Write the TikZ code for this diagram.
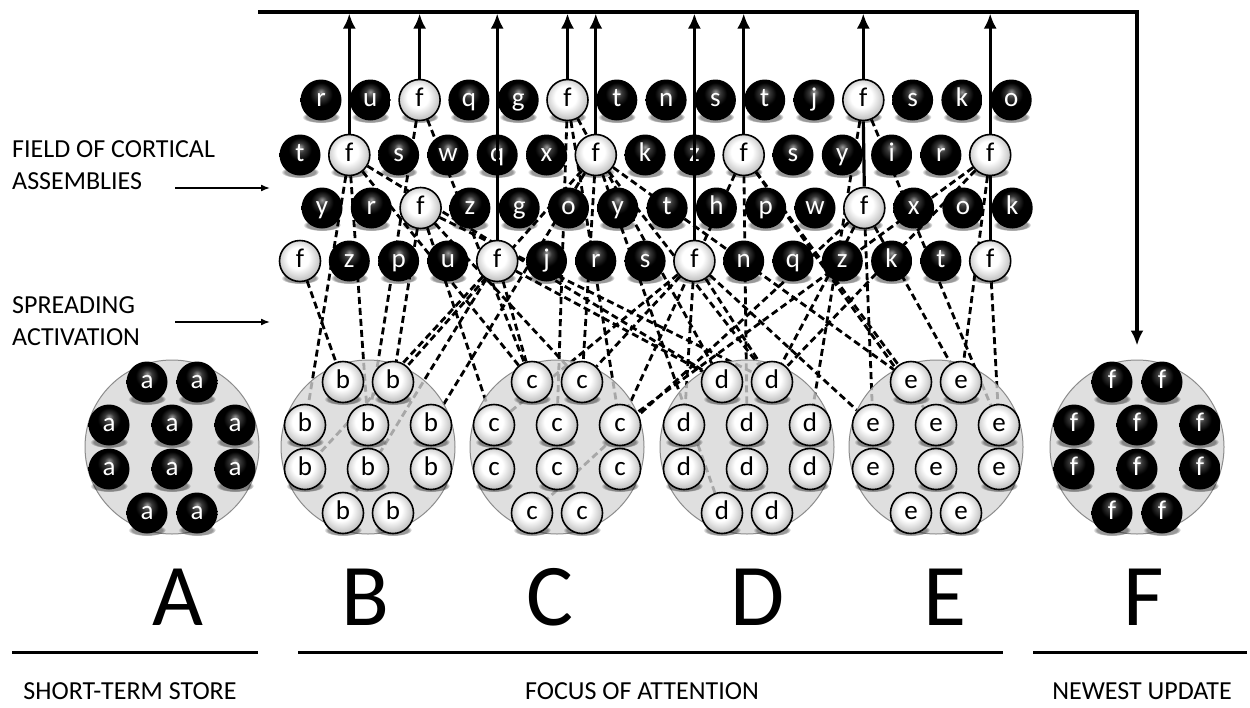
\documentclass[tikz,border=0pt]{standalone}
\usepackage{fontspec}
\setmainfont{Carlito}
\usetikzlibrary{arrows.meta,backgrounds,fadings}
\pgfdeclarelayer{paper}
\pgfsetlayers{paper,background,main}
\pgfdeclareradialshading{darkball}{\pgfpoint{0bp}{10bp}}{%
  color(0bp)=(black!40); color(6bp)=(black!78); color(14bp)=(black); color(50bp)=(black)}
\pgfdeclareradialshading{lightball}{\pgfpoint{-3bp}{5bp}}{%
  color(0bp)=(white); color(13bp)=(white); color(25bp)=(black!22); color(50bp)=(black!30)}
\newcommand\ballfont{\fontsize{27}{27}\selectfont}
\newcommand\labfont{\fontsize{26}{32}\selectfont}
\newcommand\bigfont{\fontsize{88}{88}\selectfont}
\def\fchar{f}

\begin{document}
\begin{tikzpicture}[x=1pt,y=-1pt,
  bball/.style={circle,minimum size=41pt,inner sep=0pt,shade,shading=darkball,text=white,
    font=\ballfont,text height=12pt,text depth=0pt},
  wball/.style={circle,minimum size=41pt,inner sep=0pt,shade,shading=lightball,draw=black,
    line width=1.6pt,font=\ballfont,text height=12pt,text depth=0pt},
  ballshadow/.style={fill=black,opacity=0.4,path fading=circle with fuzzy edge 20 percent},
  pool/.style={circle,minimum size=174pt,inner sep=0pt,fill=black!16,fill opacity=0.78,
    draw=black!45,line width=1pt},
  spread/.style={line width=2.8pt,dash pattern=on 7pt off 4pt},
  uparrow/.style={line width=3.2pt,-{Latex[length=15pt,width=13pt]}},
  pointer/.style={line width=1.6pt,-{Latex[length=9pt,width=7pt]}},
  rule/.style={line width=3pt},
  lab/.style={font=\labfont,inner sep=0pt},
  big/.style={font=\bigfont,inner sep=0pt}]
  \useasboundingbox (0,0) rectangle (1250,707);
  \begin{pgfonlayer}{paper}
    \fill[white] (0,0) rectangle (1250,707);
  \end{pgfonlayer}

  % field of cortical assemblies
  \foreach \row/\xo/\yo/\names in {
      1/321/100/{r,u,f,q,g,f,t,n,s,t,j,f,s,k,o},
      2/300/155/{t,f,s,w,q,x,f,k,z,f,s,y,i,r,f},
      3/322/208/{y,r,f,z,g,o,y,t,h,p,w,f,x,o,k},
      4/300/261/{f,z,p,u,f,j,r,s,f,n,q,z,k,t,f}}{
    \foreach \l [count=\i] in \names {
      \pgfmathsetmacro\xx{\xo+49.3*(\i-1)}
      \fill[ballshadow] (\xx,\yo+17) ellipse (19 and 6);
      \edef\tmp{\l}
      \ifx\tmp\fchar \node[wball] (g\row-\i) at (\xx,\yo) {\l};
      \else \node[bball] (g\row-\i) at (\xx,\yo) {\l};\fi
    }
  }

  % stores A to F
  \foreach \c/\cx/\st in {a/172/bball,b/368/wball,c/557/wball,d/747/wball,e/936/wball,f/1137/bball}{
    \node[pool] (pool-\c) at (\cx,447) {};
    \foreach \dx/\dy [count=\k] in {-25/-65,25/-65,-63/-22,0/-22,63/-22,-63/22,0/22,63/22,-25/66,25/66}{
      \fill[ballshadow] (\cx+\dx,447+\dy+17) ellipse (19 and 6);
      \node[\st] (\c\k) at (\cx+\dx,447+\dy) {\c};
    }
  }

  % spreading activation
  \begin{scope}[on background layer]
    \foreach \s/\t in {g4-1/b1,g2-2/b3,g2-2/b4,g2-2/c1,g2-2/d1,g1-3/b4,g1-3/c1,
        g3-3/b2,g3-3/c3,g3-3/c2,g3-3/d2,g4-5/b6,g4-5/b9,g2-7/b2,g2-7/b5,g4-5/c1,
        g4-5/d1,g1-6/d1,g1-6/c5,g1-6/c4,g2-7/c2,g2-7/d9,g2-7/d2,g2-7/e1,
        g4-9/c2,g4-9/c3,g4-9/d3,g4-9/d2,g4-9/e3,g2-10/c5,g2-10/d4,g2-10/e4,
        g2-10/e1,g1-12/d5,g1-12/e5,g3-12/d2,g3-12/e3,g3-12/e2,g3-12/c9,
        g2-15/c5,g2-15/d2,g2-15/e2,g4-15/e5}
      \draw[spread] (\s) -- (\t);
  \end{scope}

  % updating loop
  \coordinate (busL) at (258,12);
  \coordinate (busR) at (1137,12);
  \draw[uparrow] (busL) -- (busR) -- ([yshift=14pt]pool-f.north);
  \foreach \n in {g2-2,g1-3,g4-5,g1-6,g2-7,g4-9,g2-10,g1-12,g2-15}
    \draw[uparrow] (\n.north) -- ([yshift=-1.5pt]\n |- busL);
  \draw[line width=3.2pt] (g3-12.north) -- (g1-12.south);
  \draw[line width=3.2pt] (g4-15.north) -- (g2-15.south);

  % side labels
  \node[lab,align=left,anchor=west] (field) at (12,165) {FIELD OF CORTICAL\\ASSEMBLIES};
  \node[lab,align=left,anchor=west] (spreading) at (12,321) {SPREADING\\ACTIVATION};
  \coordinate (fieldtail) at (175,188);
  \coordinate (fieldhead) at (270,188);
  \coordinate (spreadtail) at (175,322);
  \coordinate (spreadhead) at (270,322);
  \draw[pointer] (fieldtail) -- (fieldhead);
  \draw[pointer] (spreadtail) -- (spreadhead);

  % letters and brackets
  \foreach \L/\x in {A/178,B/365,C/550,D/758,E/945,F/1144}
    \node[big,anchor=base] (let\L) at (\x,625) {\L};
  \draw[rule] (12,652) -- (258,652);
  \draw[rule] (298,652) -- (1003,652);
  \draw[rule] (1033,652) -- (1247,652);
  \node[lab,anchor=base] (stm) at (130,699) {SHORT-TERM STORE};
  \node[lab,anchor=base] (foa) at (642,699) {FOCUS OF ATTENTION};
  \node[lab,anchor=base] (upd) at (1142,699) {NEWEST UPDATE};
\end{tikzpicture}
\end{document}
